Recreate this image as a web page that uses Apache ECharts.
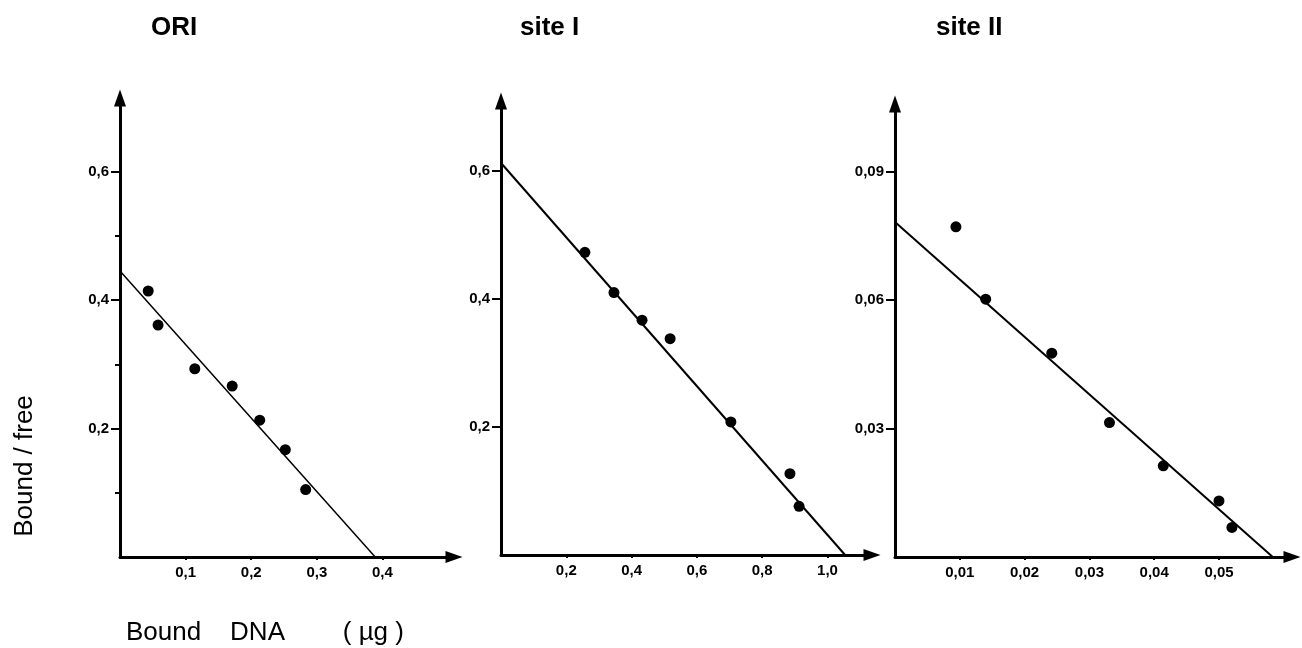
<!DOCTYPE html>
<html>
<head>
<meta charset="utf-8">
<script src="https://cdn.jsdelivr.net/npm/echarts@6/dist/echarts.min.js"></script>
<style>
html,body{margin:0;padding:0;background:#fff;}
#chart{width:1302px;height:648px;}
</style>
</head>
<body>
<div id="chart"></div>
<script>
// ---- Data ----
const panelTitles = ['ORI', 'site I', 'site II'];

const oriX = [0.043, 0.058, 0.114, 0.171, 0.213, 0.252, 0.283];
const oriY = [0.414, 0.361, 0.293, 0.266, 0.213, 0.167, 0.105];
const oriFit = [[0, 0.445], [0.389, 0]];
const oriXTicks = [0.1, 0.2, 0.3, 0.4];
const oriYTicks = [0.2, 0.4, 0.6];
const oriYMinor = [0.1, 0.3, 0.5];

const site1X = [0.257, 0.346, 0.432, 0.518, 0.704, 0.885, 0.913];
const site1Y = [0.473, 0.410, 0.367, 0.338, 0.208, 0.127, 0.076];
const site1Fit = [[0, 0.6125], [1.054, 0]];
const site1XTicks = [0.2, 0.4, 0.6, 0.8, 1.0];
const site1YTicks = [0.2, 0.4, 0.6];

const site2X = [0.0094, 0.0140, 0.0242, 0.0331, 0.0414, 0.0500, 0.0520];
const site2Y = [0.0771, 0.0602, 0.0476, 0.0314, 0.0213, 0.0131, 0.0069];
const site2Fit = [[0, 0.0782], [0.0583, 0]];
const site2XTicks = [0.01, 0.02, 0.03, 0.04, 0.05];
const site2YTicks = [0.03, 0.06, 0.09];

const yAxisTitle = 'Bound / free';
const xAxisTitle = 'Bound    DNA        ( \u00b5g )';

// ---- Chart ----
const FONT = '"Liberation Sans", Arial, Helvetica, sans-serif';
const fmt = d => v => v.toFixed(d).replace('.', ',');
const pts = (xs, ys) => xs.map((x, i) => [x, ys[i]]);
const AXIS_LINE = {color: '#000', width: 3};

function xAxisCfg(grid, max, ticks, dec) {
  return {
    type: 'value', gridIndex: grid, min: 0, max: max,
    splitLine: {show: false},
    axisLine: {show: true, onZero: false, symbol: ['none', 'triangle'], symbolSize: [12, 17],
      lineStyle: AXIS_LINE},
    axisTick: {show: true, length: 3, customValues: ticks, lineStyle: {color: '#000', width: 2}},
    axisLabel: {show: true, customValues: ticks, formatter: fmt(dec), color: '#000',
      fontFamily: FONT, fontWeight: 'bold', fontSize: 15, margin: 8}
  };
}
function yAxisCfg(grid, max, ticks, dec) {
  return {
    type: 'value', gridIndex: grid, min: 0, max: max, position: 'left',
    splitLine: {show: false},
    axisLine: {show: true, onZero: false, symbol: ['none', 'triangle'], symbolSize: [12, 17],
      lineStyle: AXIS_LINE},
    axisTick: {show: true, length: 9, customValues: ticks, lineStyle: {color: '#000', width: 2}},
    axisLabel: {show: true, customValues: ticks, formatter: fmt(dec), color: '#000',
      fontFamily: FONT, fontWeight: 'bold', fontSize: 15, margin: 11}
  };
}
const titleStyle = {fontFamily: FONT, fontWeight: 'bold', fontSize: 26, color: '#000'};
const dot = {color: '#000', opacity: 1};

const option = {
  backgroundColor: '#fff',
  animation: false,
  title: [
    {text: panelTitles[0], left: 146, top: 10, textStyle: titleStyle},
    {text: panelTitles[1], left: 515, top: 10, textStyle: titleStyle},
    {text: panelTitles[2], left: 931, top: 10, textStyle: titleStyle}
  ],
  grid: [
    {left: 120, top: 98, width: 334, bottom: 91},
    {left: 501, top: 101, width: 371, bottom: 93},
    {left: 895, top: 104, width: 397, bottom: 91}
  ],
  xAxis: [
    xAxisCfg(0, 0.5091, oriXTicks, 1),
    xAxisCfg(1, 1.1363, site1XTicks, 1),
    xAxisCfg(2, 0.06127, site2XTicks, 2)
  ],
  yAxis: [
    yAxisCfg(0, 0.7144, oriYTicks, 1),
    yAxisCfg(1, 0.7094, site1YTicks, 1),
    yAxisCfg(2, 0.10577, site2YTicks, 2),
    {
      type: 'value', gridIndex: 0, min: 0, max: 0.7144, position: 'left',
      splitLine: {show: false}, axisLine: {show: false, onZero: false}, axisLabel: {show: false},
      axisTick: {show: true, length: 5, customValues: oriYMinor, lineStyle: {color: '#000', width: 2}}
    }
  ],
  series: [
    {type: 'line', xAxisIndex: 0, yAxisIndex: 0, data: oriFit, symbol: 'none',
      lineStyle: {color: '#000', width: 1.5}, z: 2},
    {type: 'scatter', xAxisIndex: 0, yAxisIndex: 0, data: pts(oriX, oriY), symbol: 'circle',
      symbolSize: 11, itemStyle: dot, z: 3},
    {type: 'line', xAxisIndex: 1, yAxisIndex: 1, data: site1Fit, symbol: 'none',
      lineStyle: {color: '#000', width: 2}, z: 2},
    {type: 'scatter', xAxisIndex: 1, yAxisIndex: 1, data: pts(site1X, site1Y), symbol: 'circle',
      symbolSize: 11, itemStyle: dot, z: 3},
    {type: 'line', xAxisIndex: 2, yAxisIndex: 2, data: site2Fit, symbol: 'none',
      lineStyle: {color: '#000', width: 2}, z: 2},
    {type: 'scatter', xAxisIndex: 2, yAxisIndex: 2, data: pts(site2X, site2Y), symbol: 'circle',
      symbolSize: 11, itemStyle: dot, z: 3}
  ],
  graphic: [
    {type: 'text', x: 25, y: 466, rotation: Math.PI / 2,
      style: {text: yAxisTitle, fill: '#000', font: '26px ' + FONT, textAlign: 'center', textVerticalAlign: 'middle'}},
    {type: 'text', x: 126, y: 620,
      style: {text: xAxisTitle, fill: '#000', font: '26px ' + FONT, textAlign: 'left', textVerticalAlign: 'top'}}
  ]
};

const chart = echarts.init(document.getElementById('chart'), null, {renderer: 'canvas'});
chart.setOption(option);
</script>
</body>
</html>
